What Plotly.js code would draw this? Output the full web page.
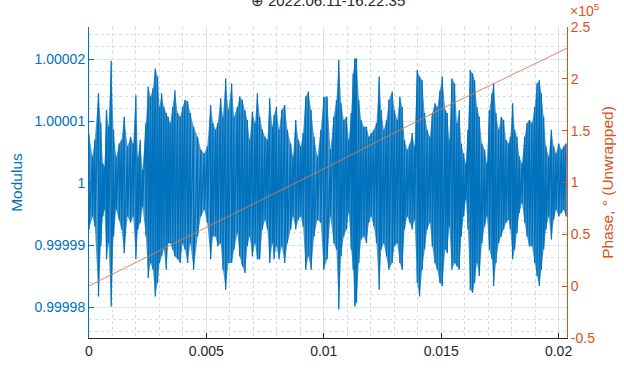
<!DOCTYPE html>
<html>
<head>
<meta charset="utf-8">
<script src="https://cdn.plot.ly/plotly-3.0.1.min.js"></script>
<style>html,body{margin:0;padding:0;background:#fff;}#chart{width:624px;height:368px;}</style>
</head>
<body>
<div id="chart"></div>
<script>
// ---- data ----
// sample times (ms) at which the envelope of the modulus trace was read
const timeMs = [0,0.149,0.249,0.405,0.505,0.590,0.661,0.746,0.832,0.945,1.045,1.158,1.286,1.386,1.500,1.642,1.770,1.883,1.997,2.082,2.182,2.281,2.424,2.523,2.623,2.722,2.822,2.921,3.006,3.092,3.191,3.291,3.376,3.461,3.561,3.660,3.774,3.888,3.987,4.087,4.200,4.314,4.456,4.627,4.769,4.911,
5.039,5.181,5.281,5.394,5.480,5.608,5.707,5.821,5.935,6.077,6.176,6.318,6.418,6.532,6.645,6.745,6.844,6.958,7.072,7.171,7.271,7.384,7.498,7.598,7.697,7.811,7.882,7.982,8.095,8.209,8.337,8.451,8.593,8.692,8.806,8.920,9.019,9.119,9.232,9.346,9.460,9.588,9.730,9.872,
10.000,10.142,10.284,10.426,10.540,10.640,10.739,10.853,10.967,11.066,11.166,11.251,11.322,11.393,11.493,11.592,11.706,11.819,11.919,12.018,12.132,12.246,12.360,12.445,12.559,12.672,12.772,12.914,13.014,13.127,13.241,13.340,13.440,13.554,13.667,13.767,13.866,13.980,14.080,14.193,14.293,14.407,14.520,14.620,14.733,14.833,14.947,15.046,
15.174,15.259,15.345,15.458,15.572,15.672,15.771,15.856,15.956,16.055,16.141,16.240,16.340,16.425,16.525,16.624,16.738,16.852,16.951,17.051,17.164,17.235,17.335,17.448,17.562,17.662,17.761,17.875,17.946,18.045,18.131,18.230,18.330,18.443,18.557,18.657,18.756,18.870,18.983,19.083,19.183,19.268,19.367,19.467,19.581,19.694,19.794,19.893,20.007,20.121,20.220,20.320];

// upper / lower excursions of the modulus about 1, in parts per million
const modulusUpperPpm = [7.8,4.3,7.0,14.5,9.7,3.2,2.7,11.8,9.1,19.75,8.6,4.3,6.4,7.0,10.7,5.9,7.5,6.4,14.2,4.3,7.0,2.1,9.7,15.6,14.0,15.3,18.5,17.2,12.3,14.5,12.3,11.3,10.7,9.7,12.3,15.0,11.3,10.7,12.3,13.4,13.2,11.3,9.1,7.5,5.4,4.8,
5.9,12.6,9.7,8.6,9.7,13.7,10.7,16.9,11.8,16.1,10.7,12.3,14.0,13.4,11.8,10.2,7.0,11.5,9.7,14.5,10.7,8.6,7.5,7.0,13.7,9.1,11.0,12.3,8.6,11.8,12.6,8.6,6.4,4.3,10.2,7.0,5.9,8.1,14.0,14.8,11.8,7.5,4.3,8.6,
13.9,14.0,5.4,10.7,13.4,19.9,12.9,10.2,10.7,7.0,11.3,17.7,20.1,20.1,13.4,10.2,9.1,9.1,7.5,8.1,8.6,9.7,17.2,11.8,8.6,10.2,13.4,14.8,11.8,10.2,14.0,12.3,7.0,5.4,6.4,8.1,5.9,18.25,17.2,16.6,11.3,8.6,7.5,11.3,12.9,12.3,15.0,17.2,
11.8,11.3,7.0,16.9,16.1,9.7,11.8,6.4,4.8,3.2,8.6,18.25,17.7,16.6,12.3,10.7,6.4,5.4,3.2,11.8,14.5,16.1,11.3,8.6,10.7,10.2,7.0,6.4,7.5,12.9,8.6,7.5,4.3,3.2,7.5,9.7,10.2,9.7,12.3,16.1,16.6,14.5,10.7,5.9,4.3,8.6,5.9,4.8,6.4,5.4,5.9,6.4];

const modulusLowerPpm = [-7.5,-5.4,-7.0,-18.3,-10.2,-5.4,-4.3,-12.3,-9.7,-19.9,-8.6,-4.3,-5.9,-7.5,-11.3,-5.4,-6.4,-5.4,-12.3,-7.5,-6.4,-3.8,-8.6,-15.3,-12.9,-14.0,-18.3,-16.1,-12.9,-11.8,-10.7,-14.0,-9.7,-9.7,-10.7,-11.8,-12.3,-12.9,-9.7,-10.7,-12.9,-9.7,-14.0,-8.6,-5.4,-4.3,
-6.4,-12.3,-8.6,-8.6,-10.2,-9.7,-14.0,-17.2,-12.9,-12.9,-10.7,-8.1,-11.8,-13.4,-14.5,-10.2,-8.6,-11.8,-9.7,-12.3,-12.3,-7.5,-5.9,-7.5,-12.9,-9.7,-12.3,-10.2,-12.3,-10.2,-12.9,-9.7,-7.5,-5.4,-7.5,-5.9,-5.4,-7.0,-14.0,-11.8,-14.0,-8.6,-5.9,-6.4,
-14.0,-12.3,-5.4,-9.7,-10.7,-20.4,-11.8,-8.6,-7.5,-4.8,-10.7,-14.0,-19.9,-19.3,-12.9,-9.1,-8.6,-9.7,-6.4,-5.4,-7.0,-9.7,-17.2,-10.7,-9.7,-11.8,-14.0,-12.9,-10.2,-9.7,-12.9,-14.0,-7.5,-5.4,-6.4,-7.5,-5.9,-16.1,-18.3,-14.0,-10.7,-7.5,-6.4,-10.2,-12.9,-14.0,-16.1,-16.6,
-10.7,-11.3,-7.0,-14.0,-12.9,-13.4,-14.0,-8.6,-5.4,-2.7,-7.5,-17.2,-17.7,-16.1,-12.9,-15.0,-9.7,-7.0,-5.4,-10.7,-12.3,-16.6,-12.9,-9.7,-8.6,-7.5,-6.4,-5.9,-7.5,-12.3,-10.7,-8.1,-4.8,-3.2,-6.4,-8.6,-10.2,-10.2,-12.9,-15.0,-16.6,-14.0,-10.7,-7.5,-5.4,-9.1,-5.9,-4.3,-5.4,-4.8,-4.3,-5.4];

// unwrapped phase (degrees)
const phaseTimeMs = [0, 5, 10, 15, 20.36];
const phaseDeg = [300, 56400, 113200, 170900, 229500];

// tick labels
const xTickVals = [0, 0.005, 0.01, 0.015, 0.02];
const xTickText = ['0', '0.005', '0.01', '0.015', '0.02'];
const yTickVals = [0.99998, 0.99999, 1, 1.00001, 1.00002];
const yTickText = ['0.99998', '0.99999', '1', '1.00001', '1.00002'];
const y2TickVals = [-50000, 0, 50000, 100000, 150000, 200000, 250000];
const y2TickText = ['-0.5', '0', '0.5', '1', '1.5', '2', '2.5'];

const titleText = '\u2295 2022.06.11-16.22.35';

// ---- build traces ----
// band between the read envelopes (lighter) + oscillating stroke through the same readings
const bandX = [], bandY = [], oscX = [], oscY = [];
for (let i = 0; i < timeMs.length; i++) {
  bandX.push(timeMs[i] / 1000);
  bandY.push(1 + modulusUpperPpm[i] * 1e-6);
  oscX.push(timeMs[i] / 1000, timeMs[i] / 1000);
  oscY.push(1 + modulusUpperPpm[i] * 1e-6, 1 + modulusLowerPpm[i] * 1e-6);
}
for (let i = timeMs.length - 1; i >= 0; i--) {
  bandX.push(timeMs[i] / 1000);
  bandY.push(1 + modulusLowerPpm[i] * 1e-6);
}
const BLUE = '#0072BD', ORANGE = '#D95319', DARK = '#262626';
const FONT = 'Liberation Sans, Arial, Helvetica, sans-serif';

const traces = [
  { x: bandX, y: bandY, type: 'scatter', mode: 'lines', fill: 'toself', fillcolor: 'rgba(0,114,189,0.72)',
    line: { color: 'rgba(0,114,189,0)', width: 0 }, yaxis: 'y', hoverinfo: 'skip' },
  { x: oscX, y: oscY, type: 'scatter', mode: 'lines',
    line: { color: BLUE, width: 1.3 }, yaxis: 'y', hoverinfo: 'skip' },
  { x: phaseTimeMs.map(t => t / 1000), y: phaseDeg, type: 'scatter', mode: 'lines',
    line: { color: '#E2784A', width: 0.9 }, yaxis: 'y2', hoverinfo: 'skip' }
];

const layout = {
  width: 624, height: 368,
  margin: { l: 89, r: 57, t: 27, b: 30 },
  paper_bgcolor: '#fff', plot_bgcolor: '#fff',
  showlegend: false,
  font: { family: FONT, size: 14, color: DARK },
  title: { text: titleText, font: { family: FONT, size: 15, color: DARK }, x: 0.5, xref: 'paper', y: 0.997, yref: 'container', yanchor: 'middle' },
  xaxis: {
    range: [0, 0.02036], tickmode: 'array', tickvals: xTickVals, ticktext: xTickText,
    ticks: 'inside', ticklen: 5, tickcolor: DARK, showline: true, linecolor: DARK, linewidth: 1, mirror: false,
    showgrid: true, gridcolor: '#e3e3e3', zeroline: false, tickfont: { size: 14, color: DARK },
    minor: { tick0: 0, dtick: 0.001, showgrid: true, gridcolor: '#d8d8d8', griddash: 'dot', ticks: '' }
  },
  yaxis: {
    range: [0.999975, 1.0000252], tickmode: 'array', tickvals: yTickVals, ticktext: yTickText,
    ticks: 'inside', ticklen: 5, tickcolor: BLUE, showline: true, linecolor: BLUE, linewidth: 1,
    showgrid: true, gridcolor: '#d9eaf5', zeroline: false, tickfont: { size: 14, color: BLUE },
    title: { text: 'Modulus', font: { size: 15.5, color: BLUE }, standoff: 8 },
    minor: { tick0: 1, dtick: 2e-6, showgrid: true, gridcolor: '#cde2f2', griddash: 'dot', ticks: '' }
  },
  yaxis2: {
    overlaying: 'y', side: 'right', range: [-50000, 250000], tickmode: 'array', tickvals: y2TickVals, ticktext: y2TickText,
    ticks: 'inside', ticklen: 5, tickcolor: ORANGE, showline: true, linecolor: ORANGE, linewidth: 1,
    showgrid: false, zeroline: false, tickfont: { size: 14, color: ORANGE },
    title: { text: 'Phase, \u00b0 (Unwrapped)', font: { size: 15.5, color: ORANGE }, standoff: 8 }
  },
  annotations: [
    { text: '\u00d710<sup>5</sup>', xref: 'paper', yref: 'paper', x: 1, y: 1, xanchor: 'left', yanchor: 'bottom', xshift: 1, yshift: 6,
      showarrow: false, font: { family: FONT, size: 14, color: ORANGE } }
  ]
};

Plotly.newPlot('chart', traces, layout, { staticPlot: true, displayModeBar: false });
</script>
</body>
</html>
